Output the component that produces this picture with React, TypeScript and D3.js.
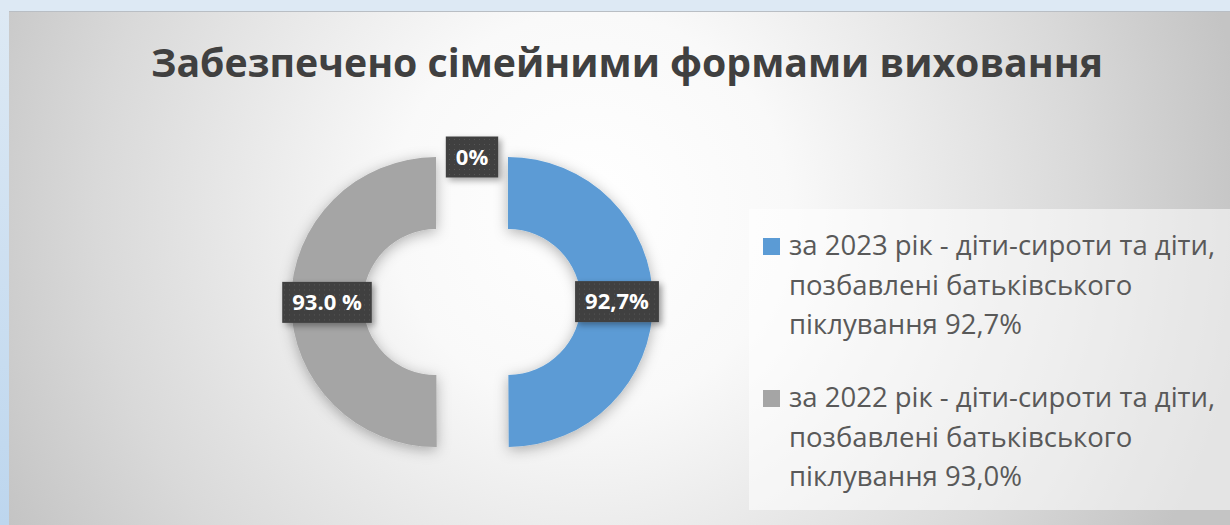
import React, { useEffect, useRef } from "react";
import * as d3 from "d3";

const title = "Забезпечено сімейними формами виховання";
const categories = ["2023", "2022", "other"];
const values = [92.7, 93.0, 0];
const dataLabels = ["92,7%", "93.0 %", "0%"];
const colors = ["#5B9BD5", "#A5A5A5", "#ED7D31"];
const legendLines = [
  ["за 2023 рік - діти-сироти та діти,", "позбавлені батьківського", "піклування 92,7%"],
  ["за 2022 рік - діти-сироти та діти,", "позбавлені батьківського", "піклування 93,0%"],
];

export default function App() {
  const ref = useRef<SVGSVGElement>(null);

  useEffect(() => {
    document.body.style.margin = "0";
    const svg = d3.select(ref.current);
    svg.selectAll("*").remove();
    const W = 1230, H = 525;

    const defs = svg.append("defs");
    const rg = defs.append("radialGradient").attr("id", "panelGrad")
      .attr("gradientUnits", "userSpaceOnUse")
      .attr("cx", 590).attr("cy", 210).attr("r", 660);
    rg.append("stop").attr("offset", 0).attr("stop-color", "#ffffff");
    rg.append("stop").attr("offset", 0.3).attr("stop-color", "#f9f9f9");
    rg.append("stop").attr("offset", 0.75).attr("stop-color", "#d9d9d9");
    rg.append("stop").attr("offset", 1).attr("stop-color", "#c4c4c4");

    const lg = defs.append("linearGradient").attr("id", "stripGrad")
      .attr("x1", 0).attr("y1", 0).attr("x2", 0).attr("y2", 1);
    lg.append("stop").attr("offset", 0).attr("stop-color", "#dde9f4");
    lg.append("stop").attr("offset", 1).attr("stop-color", "#bdd6ee");

    const sh = defs.append("filter").attr("id", "shadow")
      .attr("x", "-30%").attr("y", "-30%").attr("width", "160%").attr("height", "160%");
    sh.append("feDropShadow").attr("dx", 0).attr("dy", 3).attr("stdDeviation", 7)
      .attr("flood-color", "#000").attr("flood-opacity", 0.3);

    const sh2 = defs.append("filter").attr("id", "lblShadow")
      .attr("x", "-30%").attr("y", "-30%").attr("width", "160%").attr("height", "160%");
    sh2.append("feDropShadow").attr("dx", 3).attr("dy", 3).attr("stdDeviation", 3)
      .attr("flood-color", "#000").attr("flood-opacity", 0.35);

    const pat = defs.append("pattern").attr("id", "dots")
      .attr("patternUnits", "userSpaceOnUse").attr("width", 5).attr("height", 5);
    pat.append("rect").attr("width", 5).attr("height", 5).attr("fill", "#3f3f3f");
    pat.append("rect").attr("x", 2).attr("y", 2).attr("width", 1).attr("height", 1).attr("fill", "#575757");

    // frame
    svg.append("rect").attr("width", W).attr("height", H).attr("fill", "#dde9f4");
    svg.append("rect").attr("x", 0).attr("y", 11).attr("width", 9).attr("height", H - 11).attr("fill", "url(#stripGrad)");
    svg.append("rect").attr("x", 9).attr("y", 11).attr("width", W - 9).attr("height", H - 11).attr("fill", "url(#panelGrad)");
    svg.append("line").attr("x1", 9).attr("x2", W).attr("y1", 11.5).attr("y2", 11.5)
      .attr("stroke", "#b9bec4").attr("stroke-width", 1);

    // title
    svg.append("text").attr("x", 627).attr("y", 77).attr("text-anchor", "middle")
      .attr("font-family", "'Open Sans', sans-serif").attr("font-weight", 700)
      .attr("font-size", 39).attr("fill", "#404040")
      .attr("textLength", 952).attr("lengthAdjust", "spacingAndGlyphs")
      .text(title);

    // donut
    const cx = 472, cy = 302, rO = 145, rI = 73, explode = 36;
    const pie = d3.pie<number>().sort(null).value((d) => d);
    const arcs = pie(values);
    const arc = d3.arc<d3.PieArcDatum<number>>().innerRadius(rI).outerRadius(rO);
    const g = svg.append("g").attr("transform", `translate(${cx},${cy})`);

    arcs.forEach((a, i) => {
      if (a.value <= 0) return;
      const mid = (a.startAngle + a.endAngle) / 2;
      const dx = explode * Math.sin(mid), dy = -explode * Math.cos(mid);
      g.append("path").attr("d", arc(a) as string)
        .attr("transform", `translate(${dx},${dy})`)
        .attr("fill", colors[i]).attr("filter", "url(#shadow)")
        .attr("data-cat", categories[i]);
    });

    // data labels
    arcs.forEach((a, i) => {
      const mid = (a.startAngle + a.endAngle) / 2;
      let lx: number, ly: number;
      if (a.value > 0) {
        const rr = (rI + rO) / 2 + explode;
        lx = rr * Math.sin(mid); ly = -rr * Math.cos(mid);
      } else {
        lx = rO * Math.sin(mid); ly = -rO * Math.cos(mid);
      }
      const lgp = g.append("g").attr("transform", `translate(${lx},${ly})`);
      const rect = lgp.append("rect").attr("fill", "url(#dots)").attr("filter", "url(#lblShadow)");
      const t = lgp.append("text").attr("text-anchor", "middle").attr("dy", "0.35em")
        .attr("font-family", "'Open Sans', sans-serif").attr("font-weight", 700)
        .attr("font-size", 22).attr("fill", "#ffffff").text(dataLabels[i]);
      const w = (t.node() as SVGTextElement).getComputedTextLength();
      const bw = w + 20, bh = 41;
      rect.attr("x", -bw / 2).attr("y", -bh / 2).attr("width", bw).attr("height", bh);
    });

    // legend
    svg.append("rect").attr("x", 749).attr("y", 209).attr("width", W - 749).attr("height", 301)
      .attr("fill", "#ffffff").attr("fill-opacity", 0.55);
    const entryTop = [255, 407];
    const lineGap = 39.5;
    legendLines.forEach((lines, i) => {
      const base = entryTop[i];
      svg.append("rect").attr("x", 763).attr("y", base - 17).attr("width", 17).attr("height", 17)
        .attr("fill", colors[i]);
      lines.forEach((ln, j) => {
        svg.append("text").attr("x", 789).attr("y", base + j * lineGap)
          .attr("font-family", "'Open Sans', sans-serif").attr("font-size", 27.5)
          .attr("fill", "#595959").text(ln);
      });
    });
  }, []);

  return <svg ref={ref} width={1230} height={525} style={{ display: "block" }} />;
}
